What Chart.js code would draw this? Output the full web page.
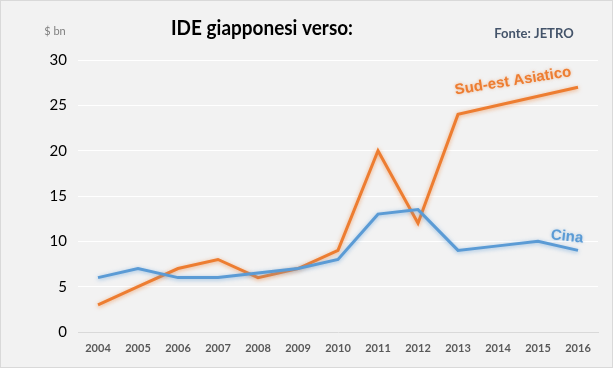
<!DOCTYPE html>
<html><head><meta charset="utf-8">
<script src="https://cdn.jsdelivr.net/npm/chart.js@4/dist/chart.umd.min.js"></script>
<style>html,body{margin:0;padding:0;background:#F2F2F2;}#wrap{width:613px;height:368px;}</style>
</head><body><div id="wrap"><canvas id="c" width="613" height="368"></canvas></div>
<script>
const years = ["2004","2005","2006","2007","2008","2009","2010","2011","2012","2013","2014","2015","2016"];
const cina = [6,7,6,6,6.5,7,8,13,13.5,9,9.5,10,9];
const sudEstAsiatico = [3,5,7,8,6,7,9,20,12,24,25,26,27];
const titleText = "IDE giapponesi verso:";
const sourceText = "Fonte: JETRO";
const unitText = "$ bn";
const labelCina = "Cina";
const labelSEA = "Sud-est Asiatico";

const FONT = "Lato, 'Liberation Sans', sans-serif";

const deco = {
  id: 'deco',
  beforeDraw(chart) {
    const ctx = chart.ctx;
    ctx.save();
    ctx.fillStyle = '#F2F2F2';
    ctx.fillRect(0,0,chart.width,chart.height);
    ctx.restore();
  },
  beforeDatasetDraw(chart, args) {
    const ctx = chart.ctx;
    ctx.save();
    const col = args.index === 0 ? 'rgba(91,155,213,0.6)' : 'rgba(237,125,49,0.6)';
    ctx.shadowColor = col;
    ctx.shadowBlur = 4;
    ctx.shadowOffsetX = 0; ctx.shadowOffsetY = 1;
  },
  afterDatasetDraw(chart) { chart.ctx.restore(); },
  afterDraw(chart) {
    const ctx = chart.ctx;
    const xs = chart.scales.x, ys = chart.scales.y;
    ctx.save();
    ctx.strokeStyle = '#D9D9D9'; ctx.lineWidth = 1;
    ctx.strokeRect(0.5,0.5,chart.width-1,chart.height-1);
    ctx.textBaseline = 'middle';
    // title
    ctx.fillStyle = '#000';
    ctx.font = "bold 21px " + FONT;
    ctx.textAlign = 'center';
    ctx.fillText(titleText, 262, 28, 182);
    // source
    ctx.fillStyle = '#44546A';
    ctx.font = "bold 13px " + FONT;
    ctx.fillText(sourceText, 534, 34);
    // unit
    ctx.fillStyle = '#7F7F7F';
    ctx.font = "11px " + FONT;
    ctx.fillText(unitText, 55, 31);
    // series labels
    ctx.save();
    ctx.translate(xs.getPixelForValue(12) - 65, ys.getPixelForValue(27) - 6);
    ctx.rotate(-9 * Math.PI / 180);
    ctx.fillStyle = '#ED7D31';
    ctx.font = "bold 15px 'Liberation Sans', sans-serif";
    ctx.shadowColor = 'rgba(237,125,49,0.5)'; ctx.shadowBlur = 3;
    ctx.fillText(labelSEA, 0, 0);
    ctx.restore();
    ctx.save();
    ctx.translate(xs.getPixelForValue(12) - 11, ys.getPixelForValue(10.5));
    ctx.rotate(6 * Math.PI / 180);
    ctx.fillStyle = '#5B9BD5';
    ctx.font = "bold 15px 'Liberation Sans', sans-serif";
    ctx.shadowColor = 'rgba(91,155,213,0.5)'; ctx.shadowBlur = 3;
    ctx.fillText(labelCina, 0, 0);
    ctx.restore();
    ctx.restore();
  }
};

new Chart(document.getElementById('c'), {
  type: 'line',
  data: {
    labels: years,
    datasets: [
      { label: labelCina, data: cina, borderColor: '#5B9BD5', borderWidth: 3, pointRadius: 0, tension: 0, fill: false },
      { label: labelSEA, data: sudEstAsiatico, borderColor: '#ED7D31', borderWidth: 3, pointRadius: 0, tension: 0, fill: false }
    ]
  },
  options: {
    responsive: false,
    animation: false,
    devicePixelRatio: 1,
    layout: { padding: { top: 60, right: 15, left: 0, bottom: 0 } },
    plugins: { legend: { display: false }, tooltip: { enabled: false }, title: { display: false } },
    scales: {
      x: {
        offset: true,
        grid: { display: false, drawTicks: false },
        border: { display: true, color: '#D9D9D9', width: 1 },
        ticks: { color: '#595959', font: { family: FONT, size: 11, weight: 'bold' }, padding: 10, maxRotation: 0, autoSkip: false },
        afterFit(s) { s.height = 36; }
      },
      y: {
        min: 0, max: 30,
        grid: { color: '#FFFFFF', lineWidth: 1, drawTicks: false },
        border: { display: false },
        ticks: { stepSize: 5, color: '#000', font: { family: FONT, size: 15 }, padding: 11 },
        afterFit(s) { s.width = 78; }
      }
    }
  },
  plugins: [deco]
});
</script>
</body></html>
